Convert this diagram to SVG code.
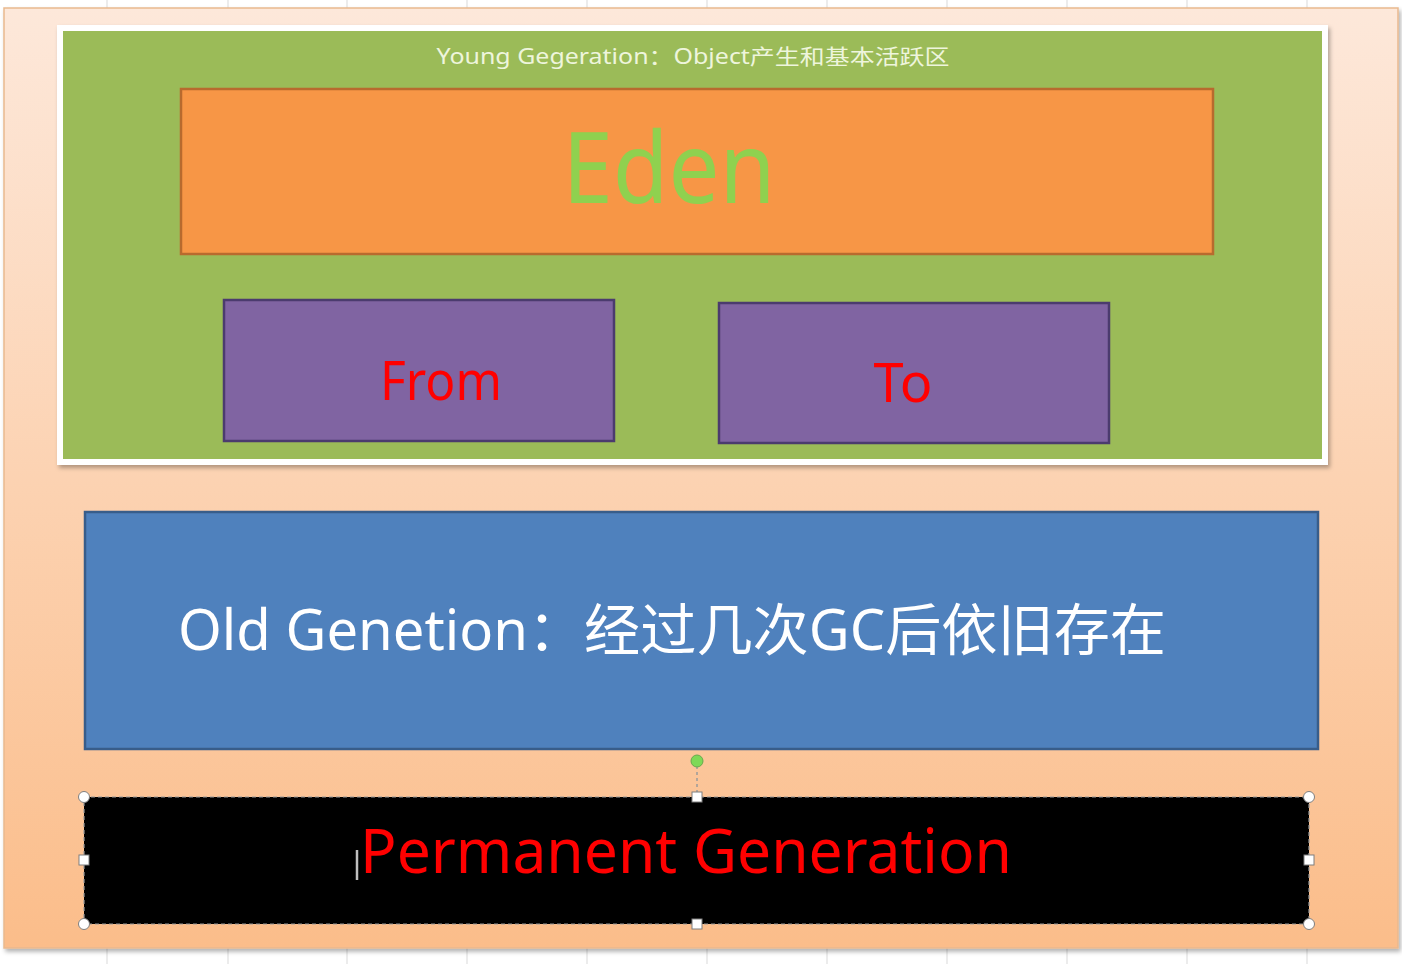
<svg xmlns="http://www.w3.org/2000/svg" width="1402" height="964" viewBox="0 0 1402 964">
<defs>
<linearGradient id="bg" x1="0" y1="0" x2="0" y2="1">
<stop offset="0" stop-color="#fde8da"/>
<stop offset="1" stop-color="#fbbd8a"/>
</linearGradient>
<filter id="sh" x="-5%" y="-5%" width="110%" height="115%">
<feDropShadow dx="2" dy="3" stdDeviation="2" flood-color="#000" flood-opacity="0.3"/>
</filter>
</defs>
<style>
.grid{stroke:#d9d9d9;stroke-width:1}
.lat{font-family:"Noto Sans","Noto Sans CJK SC",sans-serif}
.h{fill:#fff;stroke:#7f7f7f;stroke-width:1}
</style>
<rect width="1402" height="964" fill="#ffffff"/>
<g id="grid">
<line class="grid" x1="107" y1="0" x2="107" y2="964"/><line class="grid" x1="228" y1="0" x2="228" y2="964"/>
<line class="grid" x1="347" y1="0" x2="347" y2="964"/><line class="grid" x1="467" y1="0" x2="467" y2="964"/>
<line class="grid" x1="587" y1="0" x2="587" y2="964"/><line class="grid" x1="707" y1="0" x2="707" y2="964"/>
<line class="grid" x1="827" y1="0" x2="827" y2="964"/><line class="grid" x1="947" y1="0" x2="947" y2="964"/>
<line class="grid" x1="1067" y1="0" x2="1067" y2="964"/><line class="grid" x1="1187" y1="0" x2="1187" y2="964"/>
<line class="grid" x1="1307" y1="0" x2="1307" y2="964"/>
</g>
<g id="panel">
<rect x="4" y="8" width="1394" height="940" fill="url(#bg)" stroke="#e9b98f" stroke-width="1.5" filter="url(#sh)"/>
</g>
<g id="young">
<rect x="60" y="28" width="1265" height="434" fill="#9bbb59" stroke="#ffffff" stroke-width="6" filter="url(#sh)"/>
<text class="lat" x="693" y="64" font-size="21" fill="#eef5dc" text-anchor="middle" textLength="513" lengthAdjust="spacingAndGlyphs">Young Gegeration：Object产生和基本活跃区</text>
</g>
<g id="eden">
<rect x="181" y="89" width="1032" height="165" fill="#f79646" stroke="#b86a2e" stroke-width="2.5"/>
<text class="lat" x="669" y="203" font-size="98" fill="#8fd14f" text-anchor="middle" textLength="213" lengthAdjust="spacingAndGlyphs">Eden</text>
</g>
<g id="from">
<rect x="224" y="300" width="390" height="141" fill="#8064a2" stroke="#4b3b6e" stroke-width="2.5"/>
<text class="lat" x="441" y="400" font-size="55" fill="#ff0000" text-anchor="middle" textLength="122" lengthAdjust="spacingAndGlyphs">From</text>
</g>
<g id="to">
<rect x="719" y="303" width="390" height="140" fill="#8064a2" stroke="#4b3b6e" stroke-width="2.5"/>
<text class="lat" x="903" y="402" font-size="55" fill="#ff0000" text-anchor="middle" textLength="59" lengthAdjust="spacingAndGlyphs">To</text>
</g>
<g id="old">
<rect x="85" y="512" width="1233" height="237" fill="#4f81bd" stroke="#385d8a" stroke-width="2.5"/>
<text class="lat" x="178" y="650" font-size="56" fill="#ffffff" textLength="988" lengthAdjust="spacingAndGlyphs">Old Genetion：经过几次GC后依旧存在</text>
</g>
<g id="permanent">
<rect x="84" y="797" width="1225" height="127" fill="#000000" stroke="#9a9a9a" stroke-width="1.2" stroke-dasharray="4 3"/>
<text class="lat" x="360" y="873" font-size="62" fill="#ff0000" textLength="652" lengthAdjust="spacingAndGlyphs">Permanent Generation</text>
<line x1="357" y1="850" x2="357" y2="880" stroke="#bfbfbf" stroke-width="2.5"/>
</g>
<g id="connectors">
<line x1="697" y1="766" x2="697" y2="797" stroke="#9a9a9a" stroke-width="1.5" stroke-dasharray="3 3"/>
</g>
<g id="handles">
<circle cx="697" cy="761" r="6" fill="#7ed957" stroke="#6aa84f" stroke-width="1"/>
<circle class="h" cx="84" cy="797" r="5.5"/>
<circle class="h" cx="1309" cy="797" r="5.5"/>
<circle class="h" cx="84" cy="924" r="5.5"/>
<circle class="h" cx="1309" cy="924" r="5.5"/>
<rect class="h" x="692" y="792" width="10" height="10"/>
<rect class="h" x="692" y="919" width="10" height="10"/>
<rect class="h" x="79" y="855" width="10" height="10"/>
<rect class="h" x="1304" y="855" width="10" height="10"/>
</g>
</svg>
